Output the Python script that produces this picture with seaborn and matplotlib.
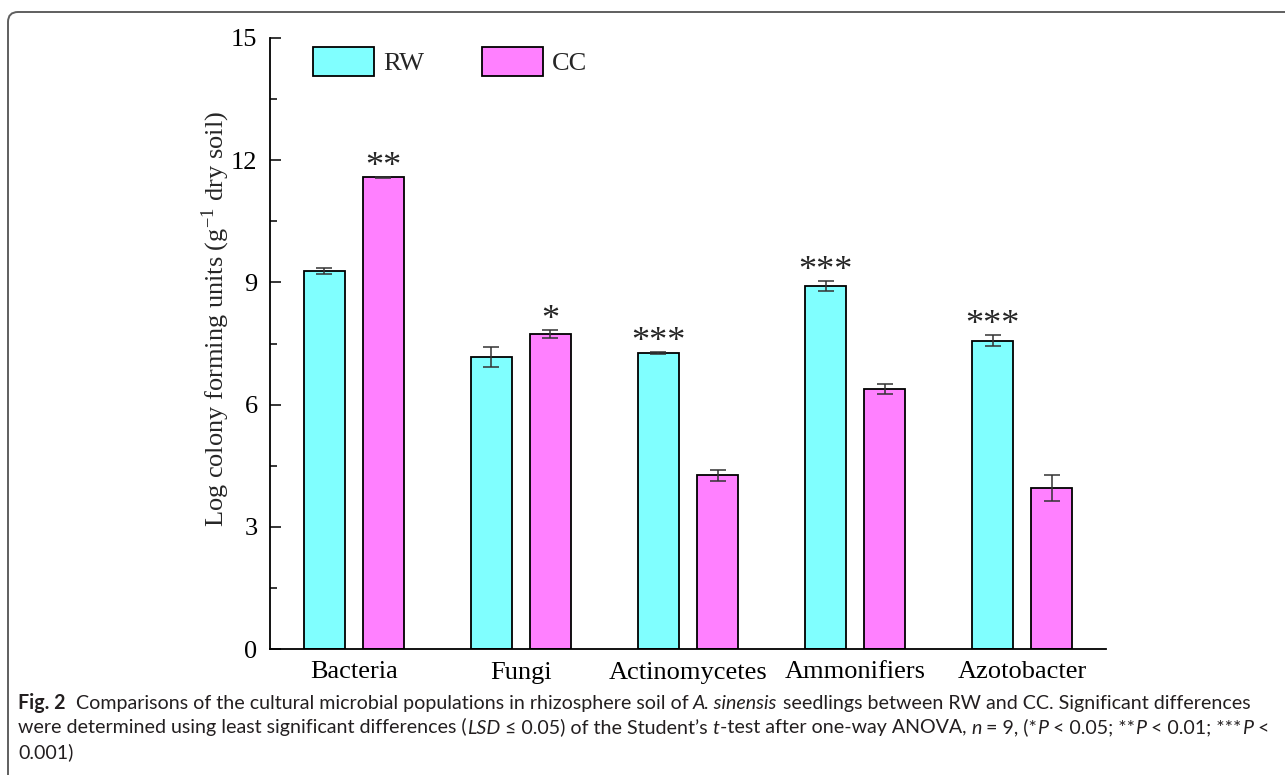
import matplotlib
matplotlib.use("Agg")
import matplotlib.pyplot as plt
from matplotlib.patches import Patch, FancyBboxPatch
from matplotlib.ticker import MultipleLocator
from matplotlib.transforms import IdentityTransform
import seaborn as sns
import pandas as pd

# values
categories = ['Bacteria', 'Fungi', 'Actinomycetes', 'Ammonifiers', 'Azotobacter']
treatments = ['RW', 'CC']
rw_mean = [9.28, 7.17, 7.27, 8.91, 7.57]
rw_err = [0.08, 0.24, 0.03, 0.12, 0.14]
cc_mean = [11.58, 7.73, 4.26, 6.38, 3.95]
cc_err = [0.01, 0.10, 0.13, 0.13, 0.31]
rw_sig = ['', '', '***', '***', '***']
cc_sig = ['**', '*', '', '', '']

C = {'RW': '#80FFFF', 'CC': '#FF80FF', 'err': '#333333', 'frame': '#5f5f5f'}
SERIF = ['Liberation Serif', 'DejaVu Serif']
CAP = ['Lato', 'DejaVu Sans']

df = pd.DataFrame({
    'group': categories * 2,
    'treatment': ['RW'] * len(categories) + ['CC'] * len(categories),
    'value': rw_mean + cc_mean,
})

sns.set_theme(style='white')
plt.rcParams['font.family'] = SERIF
plt.rcParams['mathtext.fontset'] = 'stix'

fig = plt.figure(figsize=(12.85, 7.75), dpi=100, facecolor='white')
ax = fig.add_axes([270 / 1285, 1 - 649 / 775, 836 / 1285, 611 / 775])

sns.barplot(data=df, x='group', y='value', hue='treatment', order=categories,
            hue_order=treatments, palette=C, saturation=1, width=0.707, gap=0.306,
            edgecolor='black', linewidth=1.3, errorbar=None, legend=False, ax=ax)

# error bars + significance stars
for cont, means, errs, sigs in zip(ax.containers, [rw_mean, cc_mean], [rw_err, cc_err], [rw_sig, cc_sig]):
    for bar, m, e, s in zip(cont, means, errs, sigs):
        xc = bar.get_x() + bar.get_width() / 2
        ax.errorbar(xc, m, yerr=e, fmt='none', ecolor=C['err'], elinewidth=1.1,
                    capsize=6, capthick=1.1, zorder=5)
        if s:
            ax.annotate(s, (xc, m + e), xytext=(0, 0.5), textcoords='offset points',
                        ha='center', va='baseline', fontsize=26, family=SERIF)

ax.set_xlim(-0.5, 4.5)
ax.set_ylim(0, 15)
ax.yaxis.set_major_locator(MultipleLocator(3))
ax.yaxis.set_minor_locator(MultipleLocator(1.5))
for side in ['top', 'right']:
    ax.spines[side].set_visible(False)
for side in ['left', 'bottom']:
    ax.spines[side].set_color('black')
    ax.spines[side].set_linewidth(1.3)
ax.tick_params(axis='y', which='major', direction='in', length=8, width=1.1,
               color='black', left=True, pad=9, labelsize=19)
ax.tick_params(axis='y', which='minor', direction='in', length=5, width=1.1,
               color='black', left=True)
ax.tick_params(axis='x', length=0, pad=9, labelsize=19)
ax.set_xlabel('')
ax.set_ylabel(r'Log colony forming units (g$^{\mathregular{-1}}$ dry soil)', fontsize=19)
ax.yaxis.set_label_coords(-0.046, 0.54)
for lab in ax.get_xticklabels() + ax.get_yticklabels():
    lab.set_color('black')

handles = [Patch(facecolor=C[t], edgecolor='black', linewidth=1.3, label=t) for t in treatments]
ax.legend(handles=handles, ncol=2, frameon=False, loc='upper left',
          bbox_to_anchor=(313 / 1285, 1 - 47 / 775), bbox_transform=fig.transFigure,
          fontsize=19, handlelength=2.3, handleheight=1.3, handletextpad=0.35,
          columnspacing=2.2, borderpad=0, borderaxespad=0)

# card frame with rounded top-left corner
fig.patches.append(FancyBboxPatch((8, -30), 1400, 763 + 30, boxstyle='round,pad=0,rounding_size=10',
                                  transform=IdentityTransform(), facecolor='none',
                                  edgecolor=C['frame'], linewidth=1.4, figure=fig))

# caption, drawn piece by piece for the mixed styles
lines = [
    [('Fig. 2', 'bold'), ('  Comparisons of the cultural microbial populations in rhizosphere soil of ', ''),
     ('A. sinensis', 'italic'), (' seedlings between RW and CC. Significant differences', '')],
    [('were determined using least significant differences (', ''), ('LSD', 'italic'),
     (' \u2264 0.05) of the Student\u2019s ', ''), ('t', 'italic'),
     ('-test after one-way ANOVA, ', ''), ('n', 'italic'), (' = 9, (*', ''), ('P', 'italic'),
     (' < 0.05; **', ''), ('P', 'italic'), (' < 0.01; ***', ''), ('P', 'italic'), (' <', '')],
    [('0.001)', '')],
]
renderer = fig.canvas.get_renderer()


def seg_width(txt, kw):
    t1 = fig.text(0, 0, 'x' + txt + 'x', **kw)
    t2 = fig.text(0, 0, 'xx', **kw)
    w = t1.get_window_extent(renderer).width - t2.get_window_extent(renderer).width
    t1.remove()
    t2.remove()
    return w


cap_size = 14.1
for i, segs in enumerate(lines):
    x = 18
    y = 775 - (709 + i * 24.5)
    for txt, st in segs:
        kw = dict(family=CAP, fontsize=cap_size, color='#231f20',
                  fontweight='bold' if st == 'bold' else 'normal',
                  fontstyle='italic' if st == 'italic' else 'normal')
        fig.text(x / 1285, y / 775, txt, va='baseline', ha='left', **kw)
        x += seg_width(txt, kw)

fig.savefig('out.png', dpi=100, facecolor='white')
